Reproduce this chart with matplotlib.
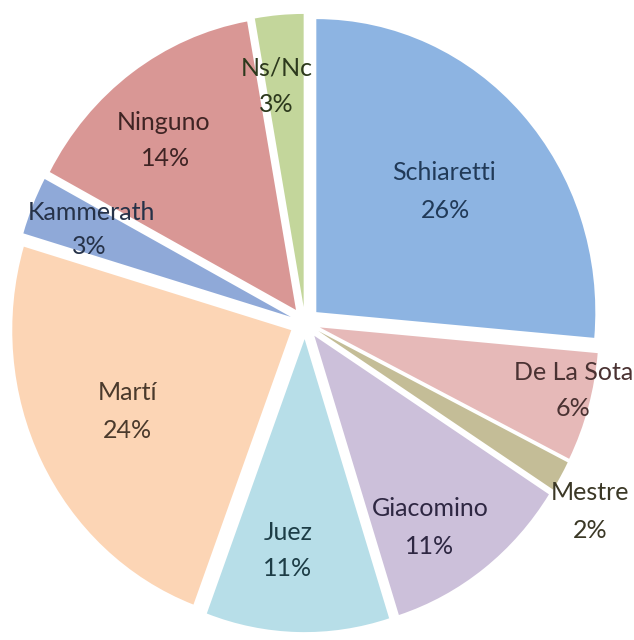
import numpy as np
import matplotlib.pyplot as plt

# poll results, clockwise from the top
names = ['Schiaretti', 'De La Sota', 'Mestre', 'Giacomino', 'Juez',
         'Martí', 'Kammerath', 'Ninguno', 'Ns/Nc']
shares = [26.4, 6.0, 1.7, 11.0, 10.6, 23.9, 3.2, 14.4, 2.8]
pct_labels = [26, 6, 2, 11, 11, 24, 3, 14, 3]

slice_colors = ['#8db4e2', '#e6b9b8', '#c4bd97', '#ccc0da', '#b7dee8',
                '#fcd5b5', '#8fa9d8', '#d99795', '#c3d69b']
text_colors = ['#213a58', '#4a3232', '#3b3826', '#2e2742', '#1d3d46',
               '#4a3a2c', '#263248', '#3f2424', '#2d391d']

# label line centres in image pixels: (name x, name y, pct x, pct y)
label_px = [(444, 173, 445, 210), (574, 372, 573, 408), (590, 493, 590, 530),
            (430, 508, 430, 546), (288, 533, 288, 568), (128, 393, 127, 430),
            (91, 212, 89, 247), (164, 122, 166, 158), (277, 68, 276, 105)]

W, H = 634, 640
cx, cy = 305, 323      # pie centre (pixels)
rx, ry = 279, 293      # pie radius (pixels), picture is slightly stretched

fig = plt.figure(figsize=(W / 100, H / 100), dpi=100)
ax = fig.add_axes([0, 0, 1, 1])

ax.pie(shares, explode=[0.055] * len(shares), startangle=90,
       counterclock=False, colors=slice_colors,
       wedgeprops=dict(linewidth=0))
ax.set_aspect('auto')
ax.set_xlim(-cx / rx, (W - cx) / rx)
ax.set_ylim((cy - H) / ry, cy / ry)
ax.axis('off')


def put(px, py, s, col):
    ax.text(px / W, 1 - py / H, s, transform=fig.transFigure,
            ha='center', va='center', fontsize=18, color=col,
            family=['Lato', 'DejaVu Sans'])


for i, name in enumerate(names):
    nx, ny, qx, qy = label_px[i]
    put(nx, ny, name, text_colors[i])
    put(qx, qy, '%d%%' % pct_labels[i], text_colors[i])

fig.savefig('out.png', dpi=100, facecolor='white')
